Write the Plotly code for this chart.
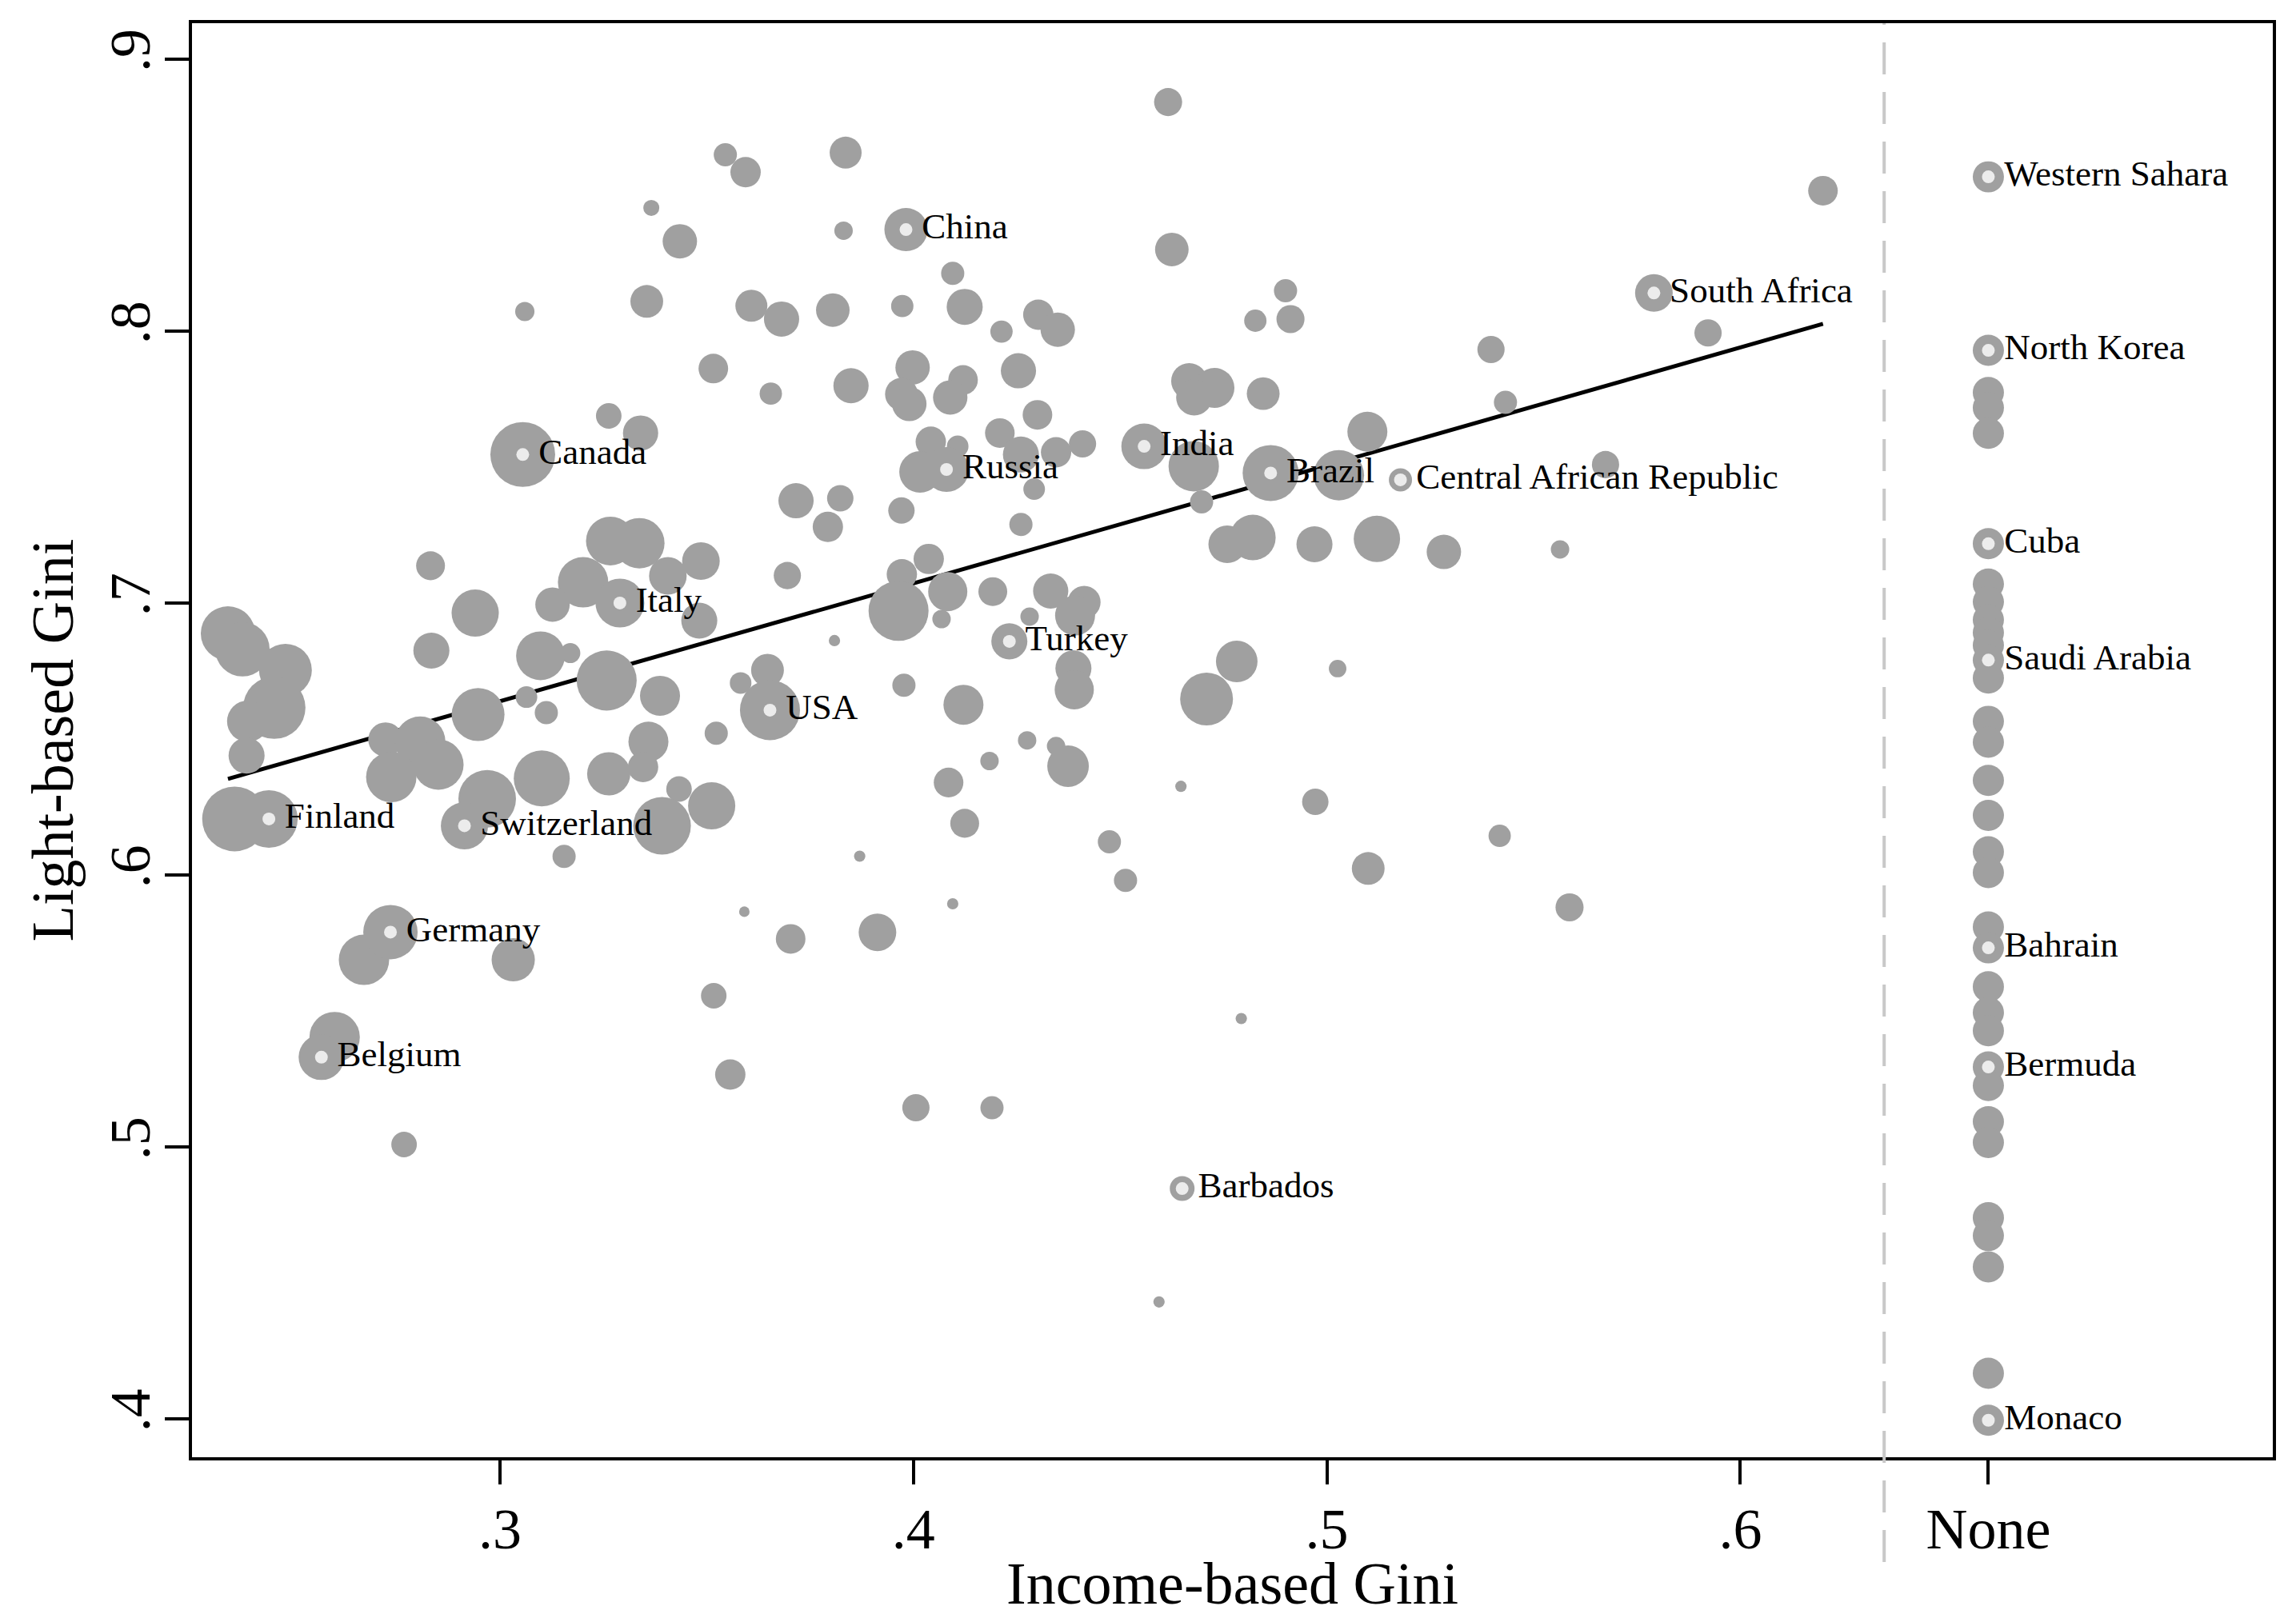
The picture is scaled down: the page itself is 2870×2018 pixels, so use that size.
import math
import plotly.graph_objects as go

# ---------------- data ----------------
# Countries with an income-based Gini, unlabeled
income_gini = [
    0.3545, 0.3594, 0.3366, 0.3435, 0.3060, 0.3355, 0.3608, 0.3516, 0.3263, 0.3340,
    0.2832, 0.3267, 0.3337, 0.3486, 0.3201, 0.3406, 0.3482, 0.3127, 0.2940, 0.2342,
    0.2377, 0.2481, 0.2454, 0.2390, 0.2834, 0.3098, 0.3170, 0.3258, 0.3387, 0.3582,
    0.3064, 0.3112, 0.2947, 0.2387, 0.2358, 0.2723, 0.2807, 0.2737, 0.2851, 0.3523,
    0.3359, 0.3346, 0.3263, 0.3101, 0.3433, 0.3512, 0.3392, 0.2969, 0.3155, 0.3591,
    0.2671, 0.3032, 0.3517, 0.2600, 0.3557, 0.2768, 0.4616, 0.3836, 0.3831, 0.4095,
    0.4625, 0.3681, 0.3805, 0.3973, 0.4124, 0.4213, 0.4302, 0.4349, 0.4827, 0.4900,
    0.4912, 0.3655, 0.3849, 0.3998, 0.3971, 0.3990, 0.4120, 0.4089, 0.4254, 0.4300,
    0.4209, 0.4042, 0.4107, 0.4016, 0.4260, 0.4345, 0.4409, 0.4292, 0.4678, 0.4697,
    0.4667, 0.4728, 0.4679, 0.4846, 0.5029, 0.4759, 0.4821, 0.4970, 0.3716, 0.3823,
    0.3793, 0.3971, 0.4260, 0.3695, 0.4037, 0.3972, 0.3964, 0.4083, 0.4068, 0.4192,
    0.4332, 0.4413, 0.4391, 0.4281, 0.4387, 0.4389, 0.3809, 0.3977, 0.4121, 0.3647,
    0.4782, 0.4709, 0.4275, 0.4345, 0.4374, 0.4184, 0.4085, 0.4124, 0.4647, 0.4972,
    0.4474, 0.4513, 0.3870, 0.4095, 0.3703, 0.3913, 0.4793, 0.4006, 0.4190, 0.4594,
    0.6200, 0.5922, 0.5397, 0.5432, 0.5098, 0.5674, 0.5121, 0.5283, 0.5564, 0.5026,
    0.5100, 0.5418, 0.5587,
]
light_gini = [
    0.8648, 0.8584, 0.8453, 0.8330, 0.8072, 0.8109, 0.8093, 0.7862, 0.7688, 0.7625,
    0.7137, 0.7228, 0.7220, 0.7154, 0.7076, 0.7100, 0.6935, 0.6994, 0.6963, 0.6888,
    0.6830, 0.6753, 0.6615, 0.6565, 0.6825, 0.6806, 0.6816, 0.6715, 0.6659, 0.6706,
    0.6654, 0.6597, 0.6590, 0.6439, 0.6206, 0.6498, 0.6490, 0.6360, 0.6406, 0.6521,
    0.6490, 0.6397, 0.6372, 0.6355, 0.6316, 0.6254, 0.6181, 0.6280, 0.6068, 0.5865,
    0.5688, 0.5688, 0.5556, 0.5404, 0.5266, 0.5009, 0.8842, 0.8656, 0.8369, 0.8212,
    0.8300, 0.8044, 0.8077, 0.8092, 0.8089, 0.7998, 0.8060, 0.8005, 0.8038, 0.8148,
    0.8044, 0.7770, 0.7799, 0.7866, 0.7768, 0.7732, 0.7820, 0.7756, 0.7854, 0.7692,
    0.7625, 0.7593, 0.7576, 0.7482, 0.7546, 0.7554, 0.7585, 0.7419, 0.7503, 0.7372,
    0.7816, 0.7791, 0.7756, 0.7770, 0.7470, 0.7216, 0.7241, 0.7216, 0.7376, 0.7385,
    0.7280, 0.7340, 0.7289, 0.7101, 0.7162, 0.7106, 0.6971, 0.7042, 0.6941, 0.7042,
    0.7044, 0.7003, 0.6954, 0.6950, 0.6760, 0.6681, 0.6862, 0.6698, 0.6626, 0.6753,
    0.6785, 0.6647, 0.6495, 0.6474, 0.6400, 0.6419, 0.6340, 0.6190, 0.6326, 0.6269,
    0.6122, 0.5980, 0.6069, 0.5894, 0.5765, 0.5789, 0.5472, 0.5144, 0.5144, 0.4430,
    0.8516, 0.7993, 0.7932, 0.7738, 0.7630, 0.7509, 0.7236, 0.7188, 0.7197, 0.6759,
    0.6024, 0.6144, 0.5881,
]
# population weight (bubble area, arbitrary units)
pop_weight = [
    8.4, 14.4, 4.0, 18.5, 5.8, 16.8, 16.0, 13.7, 10.2, 19.4,
    13.0, 37.2, 39.7, 22.1, 39.7, 22.1, 20.3, 18.5, 34.8, 46.2,
    46.2, 43.6, 60.8, 27.0, 20.3, 37.2, 6.3, 56.3, 25.0, 7.3,
    7.3, 8.4, 43.6, 20.3, 65.6, 18.5, 39.7, 39.7, 39.7, 8.4,
    25.0, 14.4, 29.2, 49.0, 10.2, 34.8, 51.8, 51.8, 8.4, 1.7,
    39.7, 29.2, 10.2, 39.7, 14.4, 10.2, 12.3, 16.0, 5.3, 8.4,
    17.6, 19.4, 17.6, 7.8, 20.3, 7.8, 14.4, 18.5, 7.8, 8.4,
    12.3, 7.8, 19.4, 18.5, 16.8, 18.5, 13.7, 18.5, 19.4, 13.7,
    13.7, 14.4, 7.3, 27.0, 20.3, 14.4, 11.6, 7.3, 39.7, 8.4,
    20.3, 25.0, 20.3, 16.8, 39.7, 22.1, 32.5, 20.3, 19.4, 10.9,
    14.4, 10.9, 8.4, 11.6, 14.4, 14.4, 56.3, 24.0, 5.3, 13.0,
    19.4, 16.8, 25.0, 5.3, 20.3, 24.0, 2.0, 8.4, 25.0, 16.8,
    27.0, 43.6, 5.3, 5.3, 27.0, 5.3, 13.7, 13.0, 2.0, 10.9,
    8.4, 8.4, 2.0, 2.0, 13.7, 22.1, 2.0, 11.6, 8.4, 2.0,
    13.7, 11.6, 11.6, 8.4, 25.0, 11.6, 33.6, 18.5, 5.3, 4.8,
    16.8, 7.8, 12.3,
]

# Labeled countries with an income-based Gini
labeled_country = ["Canada", "Italy", "Finland", "Switzerland", "Germany", "Belgium",
                   "China", "Russia", "India", "Brazil", "Turkey", "USA", "Barbados",
                   "South Africa", "Central African Republic"]
labeled_income = [0.3055, 0.3290, 0.2441, 0.2914, 0.2735, 0.2568,
                  0.3982, 0.4080, 0.4558, 0.4864, 0.4232, 0.3653, 0.4650,
                  0.5791, 0.5178]
labeled_light = [0.7546, 0.7000, 0.6206, 0.6181, 0.5790, 0.5330,
                 0.8373, 0.7491, 0.7576, 0.7478, 0.6859, 0.6606, 0.4847,
                 0.8140, 0.7453]
labeled_weight = [65.6, 37.2, 51.8, 34.8, 46.2, 32.5,
                  29.2, 31.4, 32.5, 49.0, 20.3, 56.3, 9.6,
                  22.1, 8.4]

# Countries without an income-based Gini ("None" column)
none_light = [0.8567, 0.7929, 0.7774, 0.7718, 0.7624, 0.7218, 0.7070, 0.7004, 0.6938,
              0.6891, 0.6845, 0.6790, 0.6724, 0.6565, 0.6488, 0.6348, 0.6219, 0.6085,
              0.6009, 0.5809, 0.5732, 0.5589, 0.5494, 0.5427, 0.5294, 0.5226, 0.5093,
              0.5016, 0.4740, 0.4674, 0.4559, 0.4168, 0.3995]
none_weight = 15.2
none_labeled_country = ["Western Sahara", "North Korea", "Cuba", "Saudi Arabia",
                        "Bahrain", "Bermuda", "Monaco"]
none_labeled_light = [0.8567, 0.7929, 0.7218, 0.6790, 0.5732, 0.5294, 0.3995]

# Linear fit
fit_intercept = 0.5338
fit_slope = 0.4336

x_ticks = [0.3, 0.4, 0.5, 0.6]
x_tick_text = [".3", ".4", ".5", ".6"]
none_slot = 0.66
none_tick_text = "None"
divider_x = 0.6348
y_ticks = [0.4, 0.5, 0.6, 0.7, 0.8, 0.9]
y_tick_text = [".4", ".5", ".6", ".7", ".8", ".9"]
x_range = [0.2255, 0.7288]
y_range = [0.3859, 0.9132]
x_title = "Income-based Gini"
y_title = "Light-based Gini"

# ---------------- figure ----------------
BUBBLE = "rgb(160,160,160)"
DOT = "rgb(236,236,236)"
FONT = "Liberation Serif, Times New Roman, serif"


def diam(w):
    return 10.0 * math.sqrt(w)


fig = go.Figure()

all_income = income_gini + labeled_income
fx = [min(all_income), max(all_income)]
fig.add_trace(go.Scatter(
    x=fx, y=[fit_intercept + fit_slope * v for v in fx], mode="lines",
    line=dict(color="black", width=5), hoverinfo="skip"))

fig.add_trace(go.Scatter(
    x=income_gini, y=light_gini, mode="markers",
    marker=dict(size=[diam(w) for w in pop_weight], color=BUBBLE, opacity=1,
                line=dict(width=0)),
    hoverinfo="skip"))
fig.add_trace(go.Scatter(
    x=labeled_income, y=labeled_light, mode="markers",
    marker=dict(size=[diam(w) for w in labeled_weight], color=BUBBLE, opacity=1,
                line=dict(width=0)),
    hoverinfo="skip"))
fig.add_trace(go.Scatter(
    x=[none_slot] * len(none_light), y=none_light, mode="markers",
    marker=dict(size=diam(none_weight), color=BUBBLE, opacity=1, line=dict(width=0)),
    hoverinfo="skip"))

lab_x = labeled_income + [none_slot] * len(none_labeled_light)
lab_y = labeled_light + none_labeled_light

# labeled centre dots
fig.add_trace(go.Scatter(
    x=lab_x, y=lab_y, mode="markers",
    marker=dict(size=16, color=DOT, opacity=1, line=dict(width=0)),
    hoverinfo="skip"))
# names (invisible carrier markers set the gap between dot and text)
fig.add_trace(go.Scatter(
    x=lab_x, y=lab_y, mode="markers+text",
    text=labeled_country + none_labeled_country,
    textposition="middle right",
    textfont=dict(family=FONT, size=45, color="black"),
    marker=dict(size=30, color="rgba(0,0,0,0)", line=dict(width=0)),
    hoverinfo="skip", cliponaxis=False))

# dashed divider between measured and "None"
px = (divider_x - x_range[0]) / (x_range[1] - x_range[0])
fig.add_shape(type="line", xref="paper", yref="paper", x0=px, x1=px, y0=-0.073, y1=1,
              line=dict(color="rgb(200,200,200)", width=4, dash="40px,22px"))

# x-axis title as an annotation (placed just below the tick labels)
fig.add_annotation(text=x_title, xref="paper", yref="paper", x=0.5, y=-0.088,
                   xanchor="center", yanchor="middle", showarrow=False,
                   font=dict(family=FONT, size=74, color="black"))

fig.update_layout(
    width=2870, height=2018,
    margin=dict(l=240, r=29, t=29, b=196, autoexpand=False),
    paper_bgcolor="white", plot_bgcolor="white",
    showlegend=False,
    font=dict(family=FONT, color="black"),
)
fig.update_xaxes(
    range=x_range, tickvals=x_ticks + [none_slot], ticktext=x_tick_text + [none_tick_text],
    ticks="outside", ticklen=30, tickwidth=4, tickcolor="black",
    showline=True, linewidth=4, linecolor="black", mirror=True,
    showgrid=False, zeroline=False, tickfont=dict(family=FONT, size=72),
    ticklabelstandoff=-6,
)
fig.update_yaxes(
    range=y_range, tickvals=y_ticks, ticktext=y_tick_text, tickangle=-90,
    ticks="outside", ticklen=30, tickwidth=4, tickcolor="black",
    showline=True, linewidth=4, linecolor="black", mirror=True,
    showgrid=False, zeroline=False, tickfont=dict(family=FONT, size=72),
    ticklabelstandoff=-10,
    title=dict(text=y_title, font=dict(family=FONT, size=74), standoff=8),
)

fig.write_html(
    "out.html",
    config={"displayModeBar": False},
    post_script="document.body.style.margin='0';document.body.style.overflow='hidden';",
)
